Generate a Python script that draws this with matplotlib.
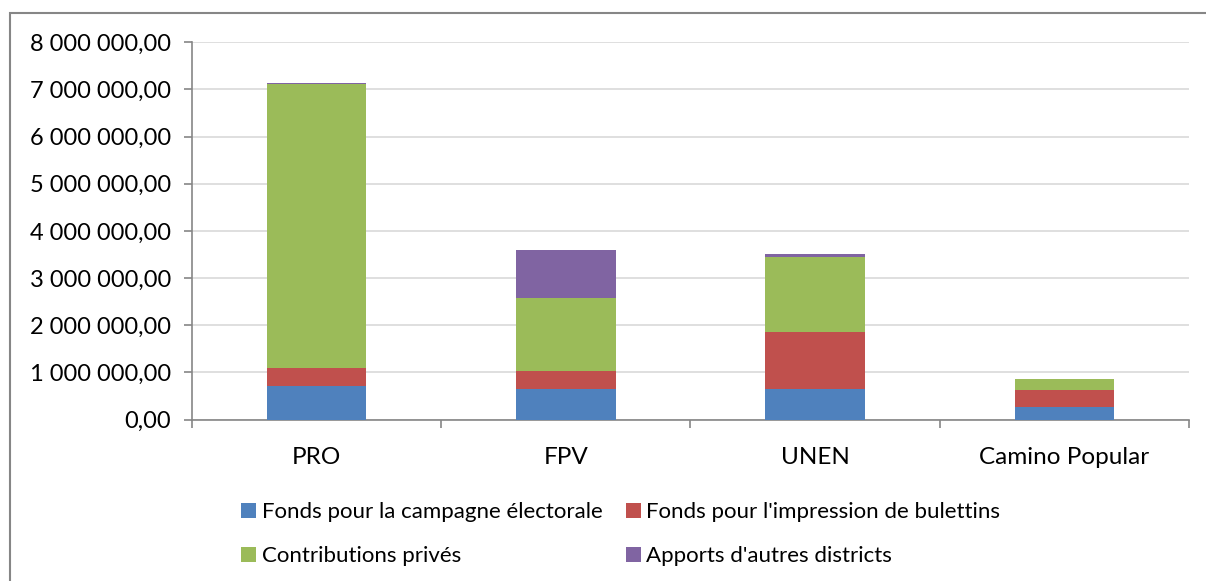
import matplotlib
matplotlib.use("Agg")
import matplotlib.pyplot as plt
from matplotlib.patches import Rectangle
import numpy as np

categories = ["PRO", "FPV", "UNEN", "Camino Popular"]
series_names = ["Fonds pour la campagne électorale",
                "Fonds pour l'impression de bulettins",
                "Contributions privés",
                "Apports d'autres districts"]
campagne = [717000, 653000, 647000, 259000]
impression = [369000, 382000, 1215000, 367000]
contributions = [6024000, 1545000, 1588000, 227000]
apports = [25000, 1010000, 55000, 0]
colors = ["#4F81BD", "#C0504D", "#9BBB59", "#8064A2"]
y_ticks = [0, 1000000, 2000000, 3000000, 4000000, 5000000, 6000000, 7000000, 8000000]

plt.rcParams['font.family'] = ['Lato', 'DejaVu Sans']

W, H = 1206, 581
fig = plt.figure(figsize=(W / 100, H / 100), dpi=100)
ax = fig.add_axes([192 / W, 1 - 419.5 / H, (1189 - 192) / W, (419.5 - 42.3) / H])

x = np.arange(len(categories))
bottom = np.zeros(len(categories))
handles = []
for name, vals, c in zip(series_names, [campagne, impression, contributions, apports], colors):
    b = ax.bar(x, vals, width=0.4, bottom=bottom, color=c, label=name, zorder=3)
    handles.append(b)
    bottom += np.array(vals)

ax.set_xlim(-0.5, len(categories) - 0.5)
ax.set_ylim(0, 8000000)
ax.set_yticks(y_ticks)

def fmt(v):
    s = f"{int(v):,}".replace(",", " ")
    return s + ",00"

ax.set_yticklabels([fmt(v) for v in y_ticks], fontsize=17)
ax.yaxis.grid(True, color="#D9D9D9", lw=1.2, zorder=0)
ax.set_axisbelow(True)

ax.set_xticks(x)
ax.set_xticklabels(categories, fontsize=17.5)
ax.tick_params(axis='x', length=0, pad=20)
ax.set_xticks(np.arange(-0.5, len(categories)), minor=True)
ax.tick_params(axis='x', which='minor', length=6, color="#868686", width=1.2)
ax.tick_params(axis='y', length=6, color="#868686", width=1.2, pad=9)

for s in ['top', 'right']:
    ax.spines[s].set_visible(False)
for s in ['left', 'bottom']:
    ax.spines[s].set_color("#868686")
    ax.spines[s].set_linewidth(1.2)

# outer border
fig.patches.append(Rectangle((10 / W, -0.01), 1.2, 1 - 13 / H + 0.01,
                             transform=fig.transFigure, fill=False,
                             edgecolor="#868686", lw=1.5))

order = [0, 2, 1, 3]
leg = fig.legend([handles[i] for i in order], [series_names[i] for i in order],
                 ncol=2, loc='upper left', bbox_to_anchor=(221 / W, 1 - 482 / H),
                 frameon=False, fontsize=16, handlelength=0.68, handleheight=0.68,
                 handletextpad=0.25, columnspacing=1.05, labelspacing=1.1)

fig.savefig("out.png", dpi=100, facecolor="white")
